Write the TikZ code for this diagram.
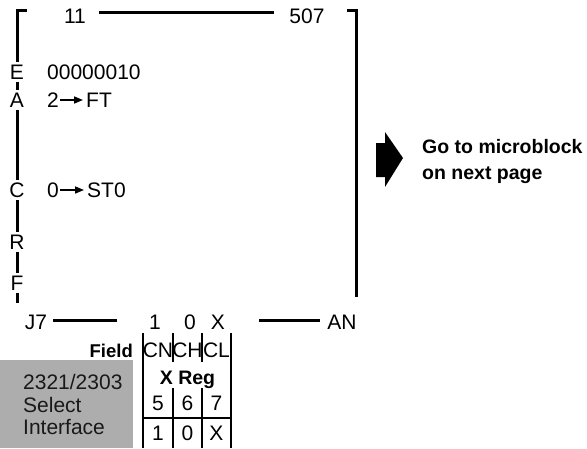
\documentclass[tikz,border=0pt]{standalone}
\usepackage{fontspec}
\setmainfont{Liberation Sans}
\usetikzlibrary{arrows.meta}
\begin{document}
\begin{tikzpicture}
  [x=1pt,y=-1pt,
   every node/.style={inner sep=0pt,text height=15pt,text depth=0pt,
     font=\fontsize{21}{25}\selectfont},
   rule/.style={line width=3pt},
   grid/.style={line width=1.8pt},
   side/.style={fill=white,inner sep=2.5pt},
   into/.style={line width=1.6pt,-{Triangle[length=9pt,width=7pt]},shorten <=1pt,shorten >=3pt},
   heavy/.style={font=\fontsize{19.5}{25}\selectfont\bfseries}]
  \useasboundingbox (0,0) rectangle (587,448);

  % brackets
  \draw[rule] (27,10) -- (17,10) -- (17,303);
  \draw[rule] (347,10) -- (356,10) -- (356,297);
  \foreach \name/\txt/\y in {e/E/72, a/A/100, c/C/190, r/R/242, f/F/283}
    \node[side] (\name) at (17,\y) {\txt};

  \node (n11) at (75,16) {11};
  \node (n507) at (307,16) {507};
  \draw[rule] ([xshift=13pt,yshift=4pt]n11.east) -- ([xshift=-15pt,yshift=4pt]n507.west);

  \node[anchor=west] (mask) at (47,72) {00000010};
  \node[anchor=west] (two) at (47,100) {2};
  \node[anchor=west] (ftreg) at (86,100) {FT};
  \draw[into] (two) -- (ftreg);
  \node[anchor=west] (zero) at (47,190) {0};
  \node[anchor=west] (streg) at (87,190) {ST0};
  \draw[into] (zero) -- (streg);

  % bottom line
  \node (j7) at (36,322) {J7};
  \node (b1) at (155,322) {1};
  \node (b0) at (190,322) {0};
  \node (bx) at (218,322) {X};
  \node (an) at (342,322) {AN};
  \draw[rule] ([xshift=6pt,yshift=2pt]j7.east) -- ([xshift=-32pt,yshift=2pt]b1.west);
  \draw[rule] ([xshift=34pt,yshift=2pt]bx.east) -- ([xshift=-7pt,yshift=2pt]an.west);

  % field table
  \draw[grid] (143,333) -- (143,448);
  \draw[grid] (231,333) -- (231,448);
  \foreach \x in {173,202} {
    \draw[grid] (\x,333) -- (\x,362);
    \draw[grid] (\x,388) -- (\x,448);
  }
  \draw[grid] (143,418) -- (231,418);
  \node[anchor=east,font=\fontsize{18.5}{22}\selectfont\bfseries] (field) at (133,350) {Field};
  \foreach \name/\txt/\x in {cn/CN/158, ch/CH/187.5, cl/CL/216.5}
    \node (\name) at (\x,350) {\txt};
  \node[heavy] (xreg) at (187.5,377) {X Reg};
  \foreach \name/\txt/\x in {r5/5/158, r6/6/187.5, r7/7/216.5}
    \node (\name) at (\x,403) {\txt};
  \foreach \name/\txt/\x in {v1/1/158, v0/0/187.5, vx/X/216.5}
    \node (\name) at (\x,433) {\txt};

  % shaded note
  \fill[black!32] (0,360) rectangle (133,448);
  \foreach \name/\txt/\y in {dev/2321\slash 2303/382, sel/Select/405, intf/Interface/427}
    \node[anchor=west,text=black!90] (\name) at (23,\y) {\txt};

  % go-to arrow
  \fill (376,143) -- (385,143) -- (385,132) -- (403,158) -- (385,187)
    -- (385,177) -- (376,177) -- cycle;
  \node[heavy,anchor=west] (goto) at (422,146) {Go to microblock};
  \node[heavy,anchor=west] (next) at (422,172) {on next page};
\end{tikzpicture}
\end{document}
